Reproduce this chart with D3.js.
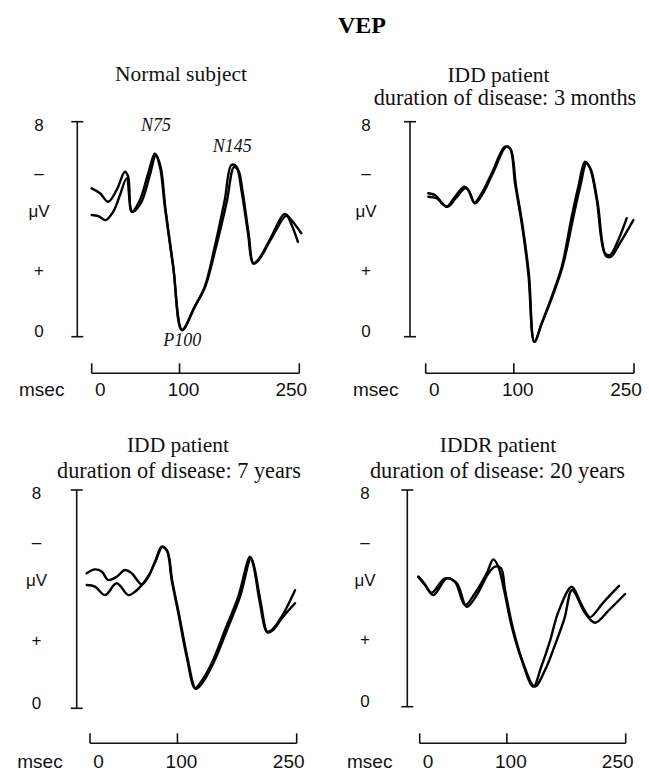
<!DOCTYPE html>
<html>
<head>
<meta charset="utf-8">
<script src="https://cdn.jsdelivr.net/npm/d3@7/dist/d3.min.js"></script>
<style>
  html, body { margin: 0; padding: 0; background: #fff; }
  svg { display: block; }
</style>
</head>
<body>
<svg id="chart" width="649" height="777"></svg>
<script>
// ---------------- DATA ----------------
const mainTitle = "VEP";
const panelTitles = [
  ["Normal subject"],
  ["IDD patient", "duration of disease: 3 months"],
  ["IDD patient", "duration of disease: 7 years"],
  ["IDDR patient", "duration of disease: 20 years"]
];
const xTickValues = [0, 100, 250];
const xTickLabels = ["0", "100", "250"];
const xUnit = "msec";
const yLabelValues = [7.9, 6.1, 4.7, 2.5, 0.2];
const yLabelTexts = ["8", "\u2013", "\u03bcV", "+", "0"];
const peakNames = ["N75", "P100", "N145"];
const peakTimes = [70.4, 103.5, 166];
const peakLevels = [7.65, -0.35, 6.88];

// Panel 1: normal subject (time in msec, amplitude in µV scale units)
const normalT1 = [-10, 0.4, 10.75, 21.25, 31.6, 35.75, 40, 50.4, 60.75, 69.1, 75.4, 81.6, 92, 103.25, 119.1, 131.6, 144.1, 156.6, 165, 171.25, 177.5, 185.75, 192, 198.25, 215, 231.6, 240, 252.5];
const normalV1 = [5.52, 5.34, 5.02, 5.46, 6.14, 5.95, 4.65, 5.09, 6.08, 6.82, 6.33, 4.84, 2.60, 0.25, 1.12, 1.86, 3.35, 5.09, 6.39, 6.33, 5.46, 3.85, 2.73, 2.85, 3.72, 4.57, 4.34, 3.85];
const normalT2 = [-10, -1.75, 7.5, 17, 25.4, 33.75, 40.75, 51.6, 62.9, 70.4, 76.6, 82.25, 92.25, 102.9, 119.1, 132.25, 145.4, 159.1, 168.25, 173.5, 179.1, 186.6, 192.6, 199.1, 216, 233.75, 240.4, 248.25];
const normalV2 = [4.53, 4.49, 4.34, 4.65, 5.27, 5.89, 4.65, 4.97, 6.02, 6.76, 6.28, 4.79, 2.59, 0.25, 1.12, 1.87, 3.30, 5.01, 6.31, 6.20, 5.38, 3.82, 2.72, 2.85, 3.71, 4.50, 4.16, 3.53];

// Panel 2: IDD, 3 months
const idd3mT1 = [-6.75, 1.6, 16.2, 26.6, 38.2, 43.2, 50.7, 59.9, 72.4, 89, 95.2, 101.5, 109.85, 118.1, 125.6, 134.8, 147.3, 159.8, 172.3, 180.5, 188.9, 195.1, 203.5, 213.8, 220.1, 230.4, 240.9];
const idd3mV1 = [5.34, 5.27, 4.84, 5.21, 5.58, 5.46, 4.99, 5.34, 6.08, 7.07, 7.01, 5.71, 4.22, 2.36, -0.19, 0.50, 1.49, 2.60, 4.47, 5.58, 6.51, 6.27, 5.09, 3.10, 3.04, 3.60, 4.41];
const idd3mT2 = [-6.75, 2.9, 17.2, 27.8, 39.7, 44.7, 51.5, 61.5, 74.6, 90.25, 95.9, 102.7, 110.8, 118.9, 125.6, 135.1, 148.3, 161.4, 175.1, 183.2, 190.7, 196.3, 204.5, 215.1, 221.4, 232.6, 249.2];
const idd3mV2 = [5.21, 5.16, 4.83, 5.16, 5.53, 5.38, 4.96, 5.33, 6.13, 7.06, 6.98, 5.61, 4.16, 2.30, -0.19, 0.51, 1.51, 2.67, 4.57, 5.64, 6.46, 6.20, 5.01, 3.00, 2.98, 3.49, 4.34];

// Panel 3: IDD, 7 years
const idd7yT1 = [-14.15, -3.7, 4.7, 13.0, 23.6, 34.0, 42.45, 55.0, 63.3, 71.8, 80.2, 86.5, 92.8, 101.1, 111.6, 122.1, 128.4, 143.1, 159.8, 176.5, 191.25, 195.4, 203.8, 212.3, 218.6, 231.1, 247.9];
const idd7yV1 = [4.95, 5.09, 5.01, 4.70, 4.82, 5.07, 4.95, 4.54, 4.82, 5.37, 5.92, 5.80, 4.70, 3.48, 1.89, 0.73, 0.92, 1.65, 2.87, 4.09, 5.56, 5.25, 3.85, 2.81, 2.87, 3.36, 4.33];
const idd7yT2 = [-14.15, -3.7, 8.9, 23.6, 38.2, 46.6, 57.0, 64.8, 73.0, 80.9, 87.2, 93.5, 101.9, 112.4, 123.3, 130.25, 145.3, 162.3, 178.6, 192.5, 196.35, 205.1, 213.3, 219.6, 231.6, 247.9];
const idd7yV2 = [4.52, 4.46, 4.15, 4.58, 4.15, 4.27, 4.58, 4.92, 5.43, 5.91, 5.76, 4.66, 3.46, 1.88, 0.71, 0.89, 1.66, 2.87, 4.08, 5.51, 5.21, 3.82, 2.78, 2.85, 3.31, 3.85];

// Panel 4: IDDR, 20 years
const iddr20yT1 = [-11.8, -3.3, 7.2, 24.1, 34.6, 47.2, 59.8, 74.6, 82.9, 89.2, 95.6, 106.2, 118.8, 133.4, 142.9, 154.5, 165, 181.9, 192.4, 200, 205, 222.7, 241.6];
const iddr20yV1 = [4.80, 4.49, 4.12, 4.74, 4.61, 3.75, 4.19, 4.92, 5.44, 5.17, 4.43, 2.95, 1.72, 0.74, 1.43, 2.43, 3.50, 4.43, 3.88, 3.46, 3.30, 3.88, 4.46];
const iddr20yT2 = [-11.8, -4.6, 5.15, 21.9, 36.7, 49.3, 62.0, 76.6, 85.1, 92.65, 97.7, 108.2, 120.8, 135, 148.2, 160.8, 172.8, 182.3, 198.7, 211.3, 229, 249.2];
const iddr20yV2 = [4.80, 4.57, 4.21, 4.74, 4.56, 3.69, 4.12, 4.92, 5.17, 5.11, 4.31, 2.83, 1.60, 0.74, 1.35, 2.28, 3.27, 4.31, 3.46, 3.10, 3.57, 4.16];

// ---------------- LAYOUT ----------------
const svg = d3.select("#chart");
const serif = "'Liberation Serif', 'Times New Roman', serif";
const sans = "'Liberation Sans', Arial, sans-serif";

const panels = [
  { titleX: [181], titleY: [81], yAxisX: 77.3, yTop: 121.7, yBot: 336.7, xLeft: 91.7, xRight: 299.3, xAxisY: 373.3, labelX: 39, xLabelY: 396,
    traces: [[normalT1, normalV1], [normalT2, normalV2]], annotate: true },
  { titleX: [498.5, 505], titleY: [81.7, 105], yAxisX: 410, yTop: 121.7, yBot: 336.7, xLeft: 425.7, xRight: 634, xAxisY: 373.3, labelX: 366, xLabelY: 396,
    traces: [[idd3mT1, idd3mV1], [idd3mT2, idd3mV2]] },
  { titleX: [178, 179], titleY: [451.7, 477.5], yAxisX: 76.7, yTop: 490, yBot: 708.3, xLeft: 90, xRight: 296.7, xAxisY: 743.3, labelX: 36.5, xLabelY: 768,
    traces: [[idd7yT1, idd7yV1], [idd7yT2, idd7yV2]] },
  { titleX: [498, 497.5], titleY: [451.7, 477.5], yAxisX: 407.3, yTop: 490, yBot: 706.7, xLeft: 419.7, xRight: 625.7, xAxisY: 743.3, labelX: 365, xLabelY: 768,
    traces: [[iddr20yT1, iddr20yV1], [iddr20yT2, iddr20yV2]] }
];

// main title
svg.append("text")
  .attr("x", 362).attr("y", 33)
  .attr("text-anchor", "middle")
  .attr("font-family", serif).attr("font-weight", "bold").attr("font-size", 24)
  .attr("fill", "#000")
  .text(mainTitle);

panels.forEach((p, i) => {
  const g = svg.append("g");
  const x = d3.scaleLinear().domain([-10, 250]).range([p.xLeft, p.xRight]);
  const y = d3.scaleLinear().domain([0, 8]).range([p.yBot, p.yTop]);

  // titles
  panelTitles[i].forEach((t, j) => {
    g.append("text")
      .attr("x", p.titleX[j]).attr("y", p.titleY[j])
      .attr("text-anchor", "middle")
      .attr("font-family", serif).attr("font-size", j === 0 ? 21.5 : 22.3)
      .attr("fill", "#111")
      .text(t);
  });

  // y axis: vertical line with caps
  const yAx = g.append("g").attr("stroke", "#111").attr("stroke-width", 1.6).attr("fill", "none");
  yAx.append("line").attr("x1", p.yAxisX).attr("x2", p.yAxisX).attr("y1", y(8)).attr("y2", y(0));
  [8, 0].forEach(v => {
    yAx.append("line").attr("x1", p.yAxisX - 6).attr("x2", p.yAxisX + 6).attr("y1", y(v)).attr("y2", y(v));
  });

  // y labels
  yLabelValues.forEach((v, k) => {
    g.append("text")
      .attr("x", p.labelX).attr("y", y(v))
      .attr("dy", "0.36em")
      .attr("text-anchor", "middle")
      .attr("font-family", sans).attr("font-size", 17)
      .attr("fill", "#111")
      .text(yLabelTexts[k]);
  });

  // x axis bracket
  const xAx = g.append("g").attr("stroke", "#111").attr("stroke-width", 1.6).attr("fill", "none");
  xAx.append("line").attr("x1", x(-10)).attr("x2", x(250)).attr("y1", p.xAxisY).attr("y2", p.xAxisY);
  [-10, 100, 250].forEach(v => {
    xAx.append("line").attr("x1", x(v)).attr("x2", x(v)).attr("y1", p.xAxisY).attr("y2", p.xAxisY - 10);
  });

  // x labels
  const xOff = [0.5, 4, -8];
  xTickValues.forEach((v, k) => {
    g.append("text")
      .attr("x", x(v) + xOff[k]).attr("y", p.xLabelY)
      .attr("text-anchor", "middle")
      .attr("font-family", sans).attr("font-size", 19)
      .attr("fill", "#111")
      .text(xTickLabels[k]);
  });
  g.append("text")
    .attr("x", x(-10) - 50).attr("y", p.xLabelY)
    .attr("text-anchor", "middle")
    .attr("font-family", sans).attr("font-size", 19)
    .attr("fill", "#111")
    .text(xUnit);

  // traces
  const line = d3.line()
    .x(d => x(d[0]))
    .y(d => y(d[1]))
    .curve(d3.curveCatmullRom.alpha(0.5));
  p.traces.forEach(([ts, vs]) => {
    const pts = ts.map((t, k) => [t, vs[k]]);
    g.append("path")
      .attr("d", line(pts))
      .attr("fill", "none")
      .attr("stroke", "#000")
      .attr("stroke-width", 2.4)
      .attr("stroke-linejoin", "round")
      .attr("stroke-linecap", "round");
  });

  // peak annotations
  if (p.annotate) {
    peakNames.forEach((n, k) => {
      g.append("text")
        .attr("x", x(peakTimes[k])).attr("y", y(peakLevels[k]))
        .attr("text-anchor", "middle")
        .attr("font-family", serif).attr("font-style", "italic").attr("font-size", 18)
        .attr("fill", "#111")
        .text(n);
    });
  }
});
</script>
</body>
</html>
